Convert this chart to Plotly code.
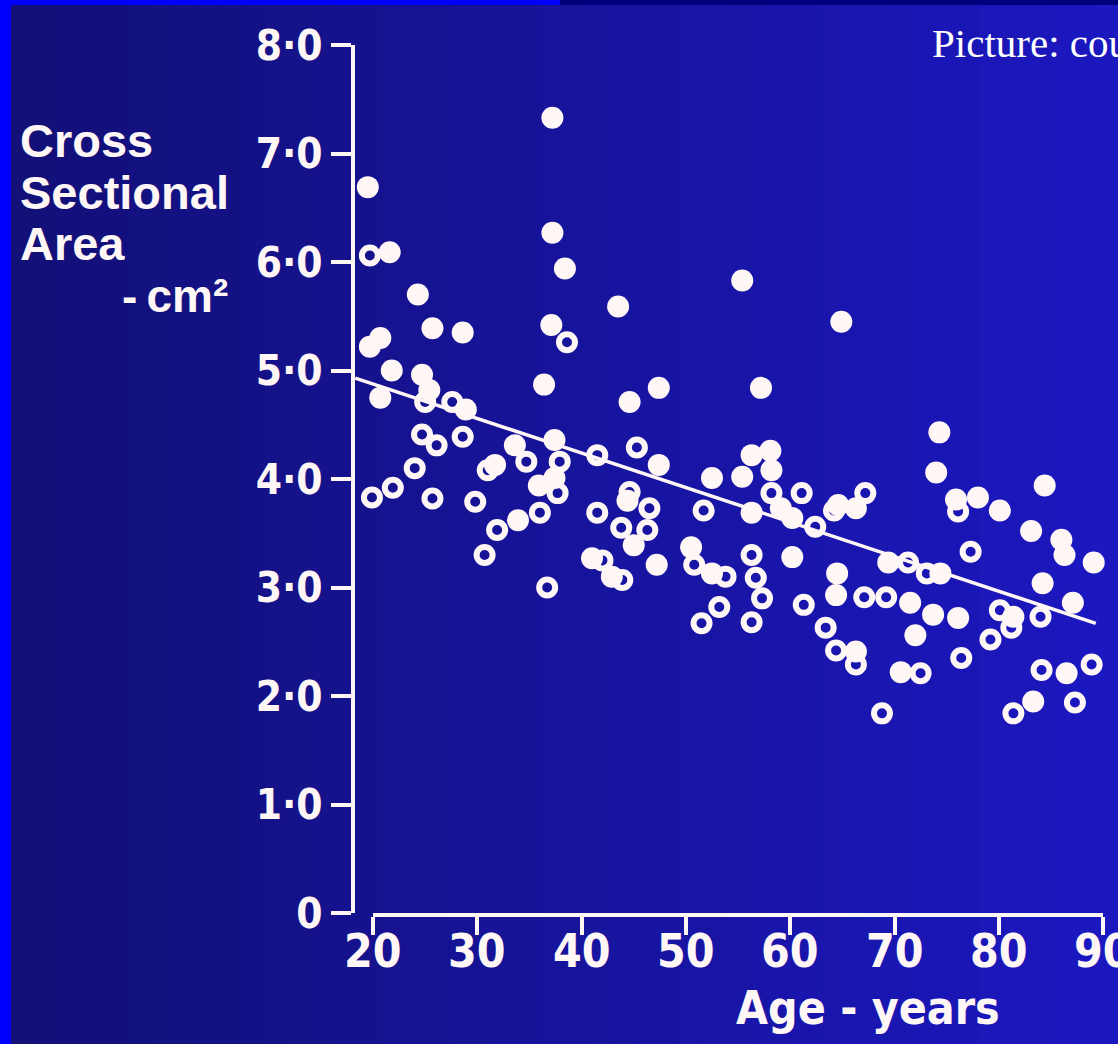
import plotly.graph_objects as go

W, H = 1118, 1044

# ---------------- data ----------------
filled_age = [19.5, 21.6, 20.7, 19.7, 21.8, 20.7, 24.3, 25.7, 28.6, 24.7, 25.4, 28.9,
              31.7, 33.6, 33.9, 36.4, 37.2, 37.2, 38.4, 37.1, 37.4, 37.4, 35.9, 41.0,
              42.9, 43.5, 44.6, 47.4, 47.4, 44.4, 45.0, 47.2, 50.5, 52.5, 52.5, 55.4,
              57.2, 55.4, 56.3, 58.1, 58.2, 56.3, 59.1, 60.2, 60.2, 64.9, 64.6, 66.3,
              64.5, 64.4, 66.3, 74.3, 74.0, 75.9, 78.0, 80.1, 84.4, 83.1, 86.0, 86.3,
              89.1, 69.4, 74.4, 71.5, 73.7, 76.1, 72.0, 81.4, 87.1, 84.2, 70.6, 86.5,
              83.3]
filled_area = [6.69, 6.09, 5.30, 5.22, 5.00, 4.75, 5.70, 5.39, 5.35, 4.96, 4.82, 4.64,
               4.13, 4.31, 3.62, 4.87, 7.33, 6.27, 5.94, 5.42, 4.36, 4.01, 3.94, 3.27,
               3.10, 5.59, 4.71, 4.84, 4.13, 3.80, 3.39, 3.21, 3.37, 4.01, 3.13, 5.83,
               4.84, 4.02, 4.22, 4.26, 4.08, 3.69, 3.73, 3.64, 3.28, 5.45, 3.76, 3.73,
               3.13, 2.93, 2.41, 4.43, 4.06, 3.81, 3.83, 3.71, 3.94, 3.52, 3.44, 3.30,
               3.23, 3.23, 3.13, 2.86, 2.75, 2.72, 2.56, 2.73, 2.86, 3.04, 2.22, 2.21,
               1.95]

open_age = [19.7, 38.6, 25.0, 27.6, 24.7, 26.1, 28.6, 24.0, 21.9, 19.9, 25.7, 29.8,
            31.0, 31.9, 30.7, 34.7, 37.9, 37.7, 36.0, 36.7, 41.5, 41.5, 42.0, 43.8,
            45.3, 44.6, 46.5, 46.3, 43.9, 50.8, 51.7, 53.8, 53.2, 51.5, 56.3, 56.7,
            57.3, 56.3, 58.2, 61.1, 62.4, 64.2, 67.2, 67.1, 61.3, 63.4, 64.4, 66.3,
            68.8, 77.3, 76.1, 71.3, 73.1, 69.2, 80.1, 81.2, 79.2, 84.0, 76.4, 72.5,
            84.1, 88.9, 81.4, 87.3]
open_area = [6.06, 5.26, 4.71, 4.71, 4.41, 4.31, 4.39, 4.10, 3.92, 3.83, 3.82, 3.79,
             4.08, 3.53, 3.30, 4.16, 4.16, 3.87, 3.69, 3.00, 4.22, 3.69, 3.25, 3.55,
             4.29, 3.88, 3.73, 3.53, 3.07, 3.21, 3.71, 3.10, 2.82, 2.67, 3.30, 3.09,
             2.90, 2.68, 3.87, 3.87, 3.56, 3.71, 3.87, 2.91, 2.84, 2.63, 2.42, 2.29,
             1.84, 3.33, 3.70, 3.23, 3.13, 2.91, 2.79, 2.63, 2.52, 2.73, 2.35, 2.21,
             2.24, 2.29, 1.84, 1.94]

trend_age = [18.3, 89.3]
trend_area = [4.93, 2.67]

x_tick_vals = [20, 30, 40, 50, 60, 70, 80, 90]
x_tick_text = ["20", "30", "40", "50", "60", "70", "80", "90"]
y_tick_vals = [0, 1, 2, 3, 4, 5, 6, 7, 8]
y_tick_text = ["0", "1·0", "2·0", "3·0", "4·0", "5·0", "6·0", "7·0", "8·0"]

y_title_lines = ["Cross", "Sectional", "Area"]
y_title_unit = "-\u2009cm²"
x_title = "Age - years"
credit = "Picture: courtesy"

# ---------------- geometry (pixels) ----------------
PX20, PXYR = 373.0, 10.43      # x pixel of age 20, px per year
PY0, PYU = 913.0, 108.5        # y pixel of value 0, px per unit
YAXIS_PX = 353.0

x_full = [20 - PX20 / PXYR, 20 + (W - PX20) / PXYR]
y_full = [-(H - PY0) / PYU, PY0 / PYU]

WHITE = "#fff6f6"
COND = "Liberation Sans Narrow, DejaVu Sans Condensed, Arial Narrow, Liberation Sans, sans-serif"
SANS = "Liberation Sans, Arial, Helvetica, sans-serif"

fig = go.Figure()

fig.add_trace(go.Scatter(x=trend_age, y=trend_area, mode="lines",
                         line=dict(color=WHITE, width=3.5),
                         hoverinfo="skip", showlegend=False, cliponaxis=False))
fig.add_trace(go.Scatter(x=open_age, y=open_area, mode="markers",
                         marker=dict(symbol="circle", size=16, color="rgba(0,0,0,0)",
                                     line=dict(color=WHITE, width=6)),
                         showlegend=False, cliponaxis=False))
fig.add_trace(go.Scatter(x=filled_age, y=filled_area, mode="markers",
                         marker=dict(symbol="circle", size=22, color=WHITE,
                                     line=dict(width=0)),
                         showlegend=False, cliponaxis=False))
# empty trace so that the visible axes subplot is drawn
fig.add_trace(go.Scatter(x=[], y=[], xaxis="x2", yaxis="y2", showlegend=False))

# background: gradient strips
shapes = []
n = 48
x0 = 11
for i in range(n):
    t = i / (n - 1)
    r = int(19 + 9 * t)
    g = int(16 + 8 * t)
    b = int(120 + 72 * t)
    xa = x0 + (W - x0) * i / n
    xb = x0 + (W - x0) * (i + 1) / n + 1
    shapes.append(dict(type="rect", xref="paper", yref="paper",
                       x0=xa / W, x1=min(xb, W) / W, y0=0, y1=1,
                       fillcolor=f"rgb({r},{g},{b})", line=dict(width=0), layer="below"))
# borders
shapes.append(dict(type="rect", xref="paper", yref="paper", x0=0, x1=11 / W, y0=0, y1=1,
                   fillcolor="#0000ff", line=dict(width=0), layer="below"))
shapes.append(dict(type="rect", xref="paper", yref="paper", x0=0, x1=560 / W,
                   y0=1 - 5 / H, y1=1, fillcolor="#0000ff", line=dict(width=0), layer="below"))
shapes.append(dict(type="rect", xref="paper", yref="paper", x0=560 / W, x1=1,
                   y0=1 - 5 / H, y1=1, fillcolor="#00007c", line=dict(width=0), layer="below"))

annotations = []
title_centers = [140, 192, 244]
for txt, cy in zip(y_title_lines, title_centers):
    annotations.append(dict(text=txt, xref="paper", yref="paper", x=18 / W, y=1 - cy / H,
                            xanchor="left", yanchor="middle", showarrow=False,
                            font=dict(family=SANS, size=47, color=WHITE, weight="bold")))
annotations.append(dict(text=y_title_unit, xref="paper", yref="paper", x=230 / W, y=1 - 296 / H,
                        xanchor="right", yanchor="middle", showarrow=False,
                        font=dict(family=SANS, size=46, color=WHITE, weight="bold")))
annotations.append(dict(text=x_title, xref="paper", yref="paper", x=868 / W, y=1 - 1008 / H,
                        xanchor="center", yanchor="middle", showarrow=False,
                        font=dict(family=COND, size=46, color=WHITE, weight="bold")))
annotations.append(dict(text=credit, xref="paper", yref="paper", x=930 / W, y=1 - 43 / H,
                        xanchor="left", yanchor="middle", showarrow=False,
                        font=dict(family="Liberation Serif, Times New Roman, serif",
                                  size=41, color="white")))
# x tick labels (placed under the visible x axis)
for v, t in zip(x_tick_vals, x_tick_text):
    annotations.append(dict(text=t, xref="x2", yref="paper", x=v, y=1 - 951 / H,
                            xanchor="center", yanchor="middle", showarrow=False,
                            font=dict(family=COND, size=46, color=WHITE, weight="bold")))

fig.update_layout(
    width=W, height=H,
    margin=dict(l=0, r=0, t=0, b=0, pad=0, autoexpand=False),
    paper_bgcolor="#16127e",
    plot_bgcolor="rgba(0,0,0,0)",
    showlegend=False,
    shapes=shapes,
    annotations=annotations,
    xaxis=dict(domain=[0, 1], range=x_full, visible=False, fixedrange=True, automargin=False),
    yaxis=dict(domain=[0, 1], range=y_full, visible=False, fixedrange=True, automargin=False),
    xaxis2=dict(domain=[PX20 / W, (PX20 + 70 * PXYR) / W], range=[20, 90], anchor="y2",
                showline=True, linecolor=WHITE, linewidth=4, showgrid=False, zeroline=False,
                ticks="outside", ticklen=18, tickwidth=4, tickcolor=WHITE,
                tickvals=x_tick_vals, showticklabels=False, automargin=False,
                fixedrange=True),
    yaxis2=dict(domain=[(H - PY0) / H, (H - (PY0 - 8 * PYU)) / H], range=[0, 8],
                anchor="free", position=YAXIS_PX / W, automargin=False,
                showline=True, linecolor=WHITE, linewidth=4, showgrid=False, zeroline=False,
                ticks="outside", ticklen=20, tickwidth=4, tickcolor=WHITE,
                tickvals=y_tick_vals, ticktext=y_tick_text,
                tickfont=dict(family=COND, size=42, color=WHITE, weight="bold"),
                fixedrange=True),
)

fig.write_html("out.html",
               config={"displayModeBar": False},
               post_script="document.body.style.margin='0px';document.body.style.overflow='hidden';")
